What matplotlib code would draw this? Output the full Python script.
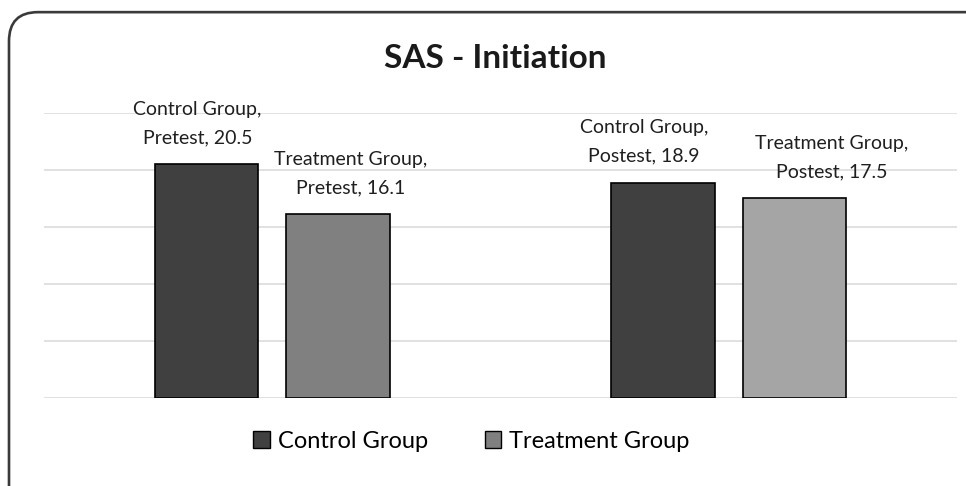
import numpy as np
import matplotlib
matplotlib.use("Agg")
import matplotlib.pyplot as plt
from matplotlib.patches import FancyBboxPatch, Patch

plt.rcParams['font.family'] = ['Lato', 'DejaVu Sans']

categories = ["Pretest", "Postest"]
control = [20.5, 18.9]
treatment = [16.1, 17.5]
series_names = ["Control Group", "Treatment Group"]

control_color = "#404040"
treatment_colors = ["#808080", "#a5a5a5"]

fig = plt.figure(figsize=(9.66, 4.86), dpi=100)
ax = fig.add_axes([44 / 966, 1 - 398 / 486, 913 / 966, (398 - 113) / 486])

x = np.arange(len(categories))
width = 0.226
offset = 0.144

bars_c = ax.bar(x - offset, control, width, color=control_color, edgecolor="black", linewidth=1.2, zorder=3)
bars_t = ax.bar(x + offset, treatment, width, color=treatment_colors, edgecolor="black", linewidth=1.2, zorder=3)

ax.set_xlim(-0.5, len(categories) - 0.5)
ax.set_ylim(0, 25)
ax.set_yticks(np.arange(0, 26, 5))
ax.yaxis.grid(True, color="#d9d9d9", linewidth=1.1, zorder=0)
ax.tick_params(left=False, bottom=False, labelleft=False, labelbottom=False)
for s in ax.spines.values():
    s.set_visible(False)

# data labels, nudged sideways like Excel does (px offsets)
label_dx = [[-9, 13], [-19, 37]]
for i, cat in enumerate(categories):
    for j, (name, vals, bars) in enumerate([(series_names[0], control, bars_c),
                                            (series_names[1], treatment, bars_t)]):
        b = bars[i]
        ax.annotate(f"{name},\n{cat}, {vals[i]}",
                    xy=(b.get_x() + b.get_width() / 2, vals[i]),
                    xytext=(label_dx[i][j] * 0.72, 13), textcoords="offset points",
                    ha="center", va="bottom", fontsize=14, color="#1f1f1f",
                    linespacing=1.8, zorder=4)

fig.text(495 / 966, 1 - 58 / 486, "SAS - Initiation", ha="center", va="center",
         fontsize=24, fontweight="bold", color="#1a1a1a")

handles = [Patch(facecolor=control_color, edgecolor="black"),
           Patch(facecolor=treatment_colors[0], edgecolor="black")]
fig.legend(handles, series_names, loc="center", bbox_to_anchor=(0.488, 1 - 441 / 486),
           ncol=2, frameon=False, fontsize=17, handlelength=0.7, handleheight=0.7,
           handletextpad=0.35, columnspacing=2.4)

border = FancyBboxPatch((9 / 966, -0.2), 1.1, 0.975 + 0.2,
                        boxstyle="round,pad=0,rounding_size=0.03", mutation_aspect=966 / 486,
                        transform=fig.transFigure, facecolor="none", edgecolor="#3a3a3a",
                        linewidth=1.9, clip_on=False)
fig.patches.append(border)

fig.savefig("out.png", dpi=100)
